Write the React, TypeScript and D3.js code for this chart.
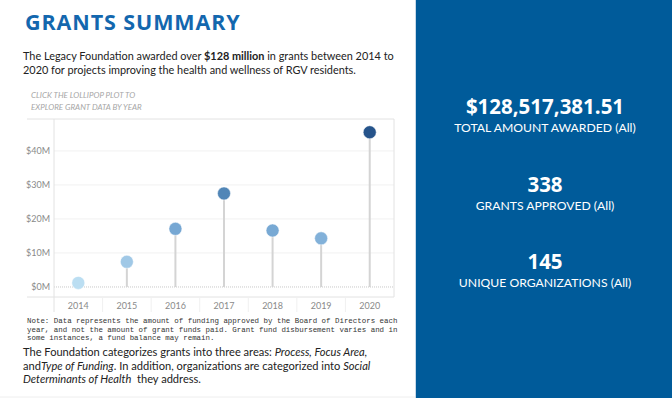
import React from 'react';
import * as d3 from 'd3';

const years = ['2014', '2015', '2016', '2017', '2018', '2019', '2020'];
// grant amounts approved per year, in $ millions
const amounts = [1.2, 7.4, 17.1, 27.5, 16.6, 14.3, 45.5];
const yTicks = [0, 10, 20, 30, 40];

const noteLines = [
  'Note: Data represents the amount of funding approved by the Board of Directors each',
  'year, and not the amount of grant funds paid. Grant fund disbursement varies and in',
  'some instances, a fund balance may remain.',
];

const kpis = [
  {value: '$128,517,381.51', label: 'TOTAL AMOUNT AWARDED (All)'},
  {value: '338', label: 'GRANTS APPROVED (All)'},
  {value: '145', label: 'UNIQUE ORGANIZATIONS (All)'},
];

const W = 672;
const H = 398;
const plot = {left: 54, right: 394, top: 119, bottom: 297};
const bodyFont = 'Lato, "Noto Sans", sans-serif';

const App = () => {
  const xScale = d3.scaleBand().domain(years).range([plot.left, plot.right]);
  const yScale = d3.scaleLinear().domain([-2.95, 49.4]).range([plot.bottom, plot.top]);
  const color = d3.scaleLinear<string>()
    .domain([0, 16, 28, 46])
    .range(['#c0e2f4', '#7aabd6', '#4f84b6', '#25538a'])
    .interpolate(d3.interpolateLab);

  const cx = (y: string) => (xScale(y) ?? 0) + xScale.bandwidth() / 2;

  return (
    <svg width={W} height={H} style={{position: 'absolute', left: 0, top: 0, display: 'block'}}>
      <rect x={0} y={0} width={W} height={H} fill='#ffffff'/>

      {/* header */}
      <text x={25} y={30} fill='#1367ae' fontFamily='"Open Sans", sans-serif' fontWeight={700} fontSize={21.5} letterSpacing={0.9}>
        GRANTS SUMMARY
      </text>
      <text x={23} y={60} fill='#222' fontFamily={bodyFont} fontSize={10.9}>
        The Legacy Foundation awarded over <tspan fontWeight={700}>$128 million</tspan> in grants between 2014 to
      </text>
      <text x={23} y={74} fill='#222' fontFamily={bodyFont} fontSize={10.9}>
        2020 for projects improving the health and wellness of RGV residents.
      </text>
      <text x={31} y={98} fill='#a6a6a6' fontFamily={bodyFont} fontStyle='italic' fontSize={8}>
        CLICK THE LOLLIPOP PLOT TO
      </text>
      <text x={31} y={110} fill='#a6a6a6' fontFamily={bodyFont} fontStyle='italic' fontSize={8}>
        EXPLORE GRANT DATA BY YEAR
      </text>

      {/* gridlines */}
      {yTicks.filter(t => t > 0).map(t => (
        <line key={t} x1={plot.left} x2={plot.right} y1={yScale(t)} y2={yScale(t)} stroke='#f1f1f1' strokeWidth={1}/>
      ))}
      <line x1={plot.left} x2={plot.right} y1={yScale(0)} y2={yScale(0)} stroke='#c8c8c8' strokeWidth={1} strokeDasharray='1,1'/>

      {/* frame */}
      <line x1={27} x2={plot.right} y1={plot.top} y2={plot.top} stroke='#e2e2e2'/>
      <line x1={27} x2={plot.right} y1={plot.bottom} y2={plot.bottom} stroke='#e2e2e2'/>
      <line x1={plot.right} x2={plot.right} y1={plot.top} y2={plot.bottom} stroke='#e2e2e2'/>
      <line x1={plot.left} x2={plot.left} y1={plot.top} y2={312} stroke='#e2e2e2'/>
      {years.slice(1).map(y => (
        <line key={y} x1={xScale(y)} x2={xScale(y)} y1={plot.bottom} y2={312} stroke='#f0f0f0'/>
      ))}

      {/* y axis labels */}
      {yTicks.map(t => (
        <text key={t} x={50} y={yScale(t) + 3} textAnchor='end' fill='#8a8a8a' fontFamily={bodyFont} fontSize={9}>
          {`$${t}M`}
        </text>
      ))}

      {/* x axis labels */}
      {years.map(y => (
        <text key={y} x={cx(y)} y={309} textAnchor='middle' fill='#8a8a8a' fontFamily={bodyFont} fontSize={9}>
          {y}
        </text>
      ))}

      {/* lollipops */}
      {years.map((y, i) => (
        <g key={y}>
          <line x1={cx(y)} x2={cx(y)} y1={yScale(0)} y2={yScale(amounts[i])} stroke='#d4d4d4' strokeWidth={2}/>
          <circle cx={cx(y)} cy={yScale(amounts[i])} r={6.5} fill={color(amounts[i])} stroke='#ffffff' strokeOpacity={0.6} strokeWidth={0.8}/>
        </g>
      ))}

      {/* note */}
      {noteLines.map((l, i) => (
        <text key={i} x={27} y={323 + i * 8.6} fill='#333' fontFamily='"Liberation Mono", "DejaVu Sans Mono", monospace' fontSize={7.45} xmlSpace='preserve'>
          {l}
        </text>
      ))}

      {/* bottom paragraph */}
      <text x={23} y={356} fill='#222' fontFamily={bodyFont} fontSize={11.1}>
        The Foundation categorizes grants into three areas: <tspan fontStyle='italic'>Process, Focus Area,</tspan>
      </text>
      <text x={23} y={369.5} fill='#222' fontFamily={bodyFont} fontSize={11.1}>
        and<tspan fontStyle='italic'>Type of Funding</tspan>. In addition, organizations are categorized into <tspan fontStyle='italic'>Social</tspan>
      </text>
      <text x={23} y={383} fill='#222' fontFamily={bodyFont} fontSize={11.1} xmlSpace='preserve'>
        <tspan fontStyle='italic'>Determinants of Health</tspan>  they address.
      </text>
      <line x1={0} x2={415} y1={397} y2={397} stroke='#eeeeee'/>

      {/* KPI panel */}
      <rect x={416} y={0} width={W - 416} height={H} fill='#005b9a'/>
      <line x1={415.5} x2={415.5} y1={0} y2={H} stroke='#c9d9e8'/>
      {kpis.map((k, i) => (
        <g key={k.label}>
          <text x={545} y={114 + i * 77.5} textAnchor='middle' fill='#ffffff' fontFamily='"Open Sans", sans-serif' fontWeight={700} fontSize={20.5}>
            {k.value}
          </text>
          <text x={545} y={132 + i * 77.5} textAnchor='middle' fill='#ffffff' fontFamily={bodyFont} fontSize={12.2}>
            {k.label}
          </text>
        </g>
      ))}
    </svg>
  );
};

export default App;
